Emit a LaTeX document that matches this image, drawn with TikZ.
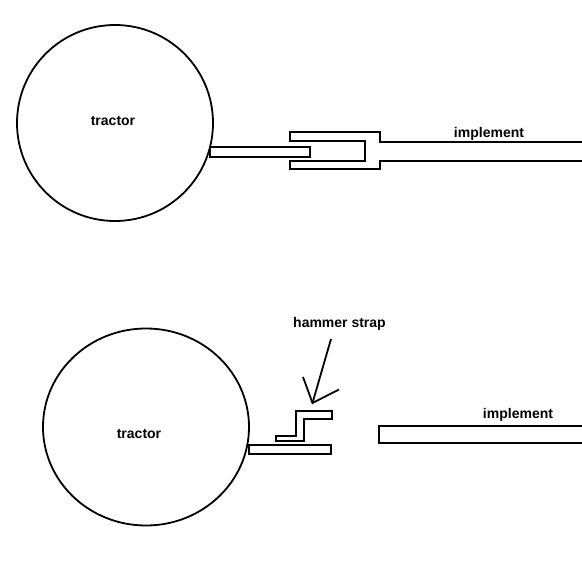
\documentclass[tikz,border=0pt]{standalone}
\usepackage{fontspec}
\setmainfont{Liberation Sans}
\tikzset{
  part/.style={draw=black,line width=1.8pt,fill=none,line join=miter},
  lbl/.style={font=\fontsize{14pt}{16pt}\selectfont\bfseries,inner sep=0pt,anchor=center,text=black},
  pointer/.style={draw=black,line width=1.8pt,line join=miter}
}
\begin{document}
\begin{tikzpicture}[x=1pt,y=-1pt]
\useasboundingbox (0,0) rectangle (582,578);
% top assembly
\draw[part] (115,123) ellipse [x radius=98,y radius=98];
\draw[part] (210,147) rectangle (310,157);
\draw[part] (582,142) -- (380,142) -- (380,132) -- (290,132) -- (290,141) -- (365,141) -- (365,161) -- (290,161) -- (290,169) -- (380,169) -- (380,161) -- (582,161);
\node[lbl] (t1) at (113,121) {tractor};
\node[lbl] (i1) at (489,134) {implement};
% bottom assembly
\draw[part] (146,427) ellipse [x radius=103,y radius=98.5];
\draw[part] (249,445) rectangle (331,454);
\draw[part] (276,436) -- (296,436) -- (296,411) -- (332,411) -- (332,419) -- (304,419) -- (304,441) -- (276,441) -- cycle;
\draw[part] (582,426) -- (379,426) -- (379,443) -- (582,443);
\node[lbl] (t2) at (139,434) {tractor};
\node[lbl] (i2) at (518,415) {implement};
\node[lbl] (h) at (339.5,324) {hammer strap};
\coordinate (tail) at (331,339);
\coordinate (tip) at (312.5,403);
\coordinate (b1) at (303,377);
\coordinate (b2) at (339,389.5);
\draw[pointer] (tail) -- (tip);
\draw[pointer] (b1) -- (tip) -- (b2);
\end{tikzpicture}
\end{document}
